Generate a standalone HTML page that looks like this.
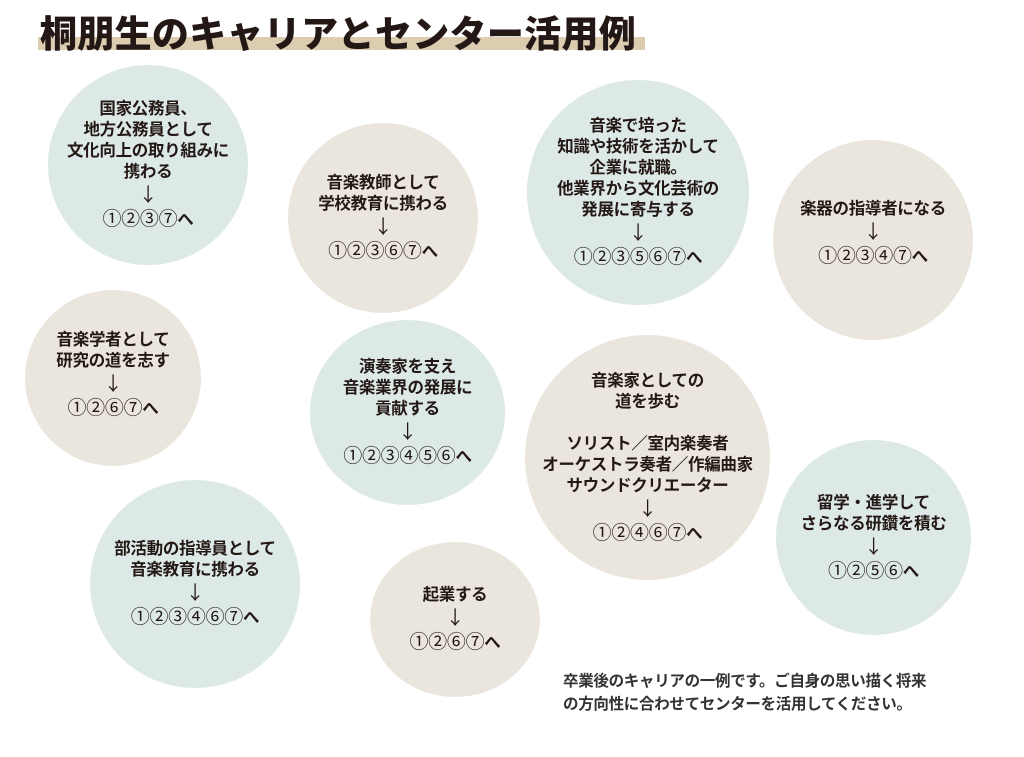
<!DOCTYPE html>
<html><head><meta charset="utf-8">
<style>
body{margin:0;width:1024px;height:757px;background:#fff;position:relative;overflow:hidden;font-family:"Liberation Sans","Noto Sans CJK JP",sans-serif;color:#231815}
.t{position:absolute;left:40px;top:4px;font-size:37px;font-weight:900;letter-spacing:0.3px;white-space:nowrap;z-index:2}
.band{position:absolute;left:38px;top:37px;width:607px;height:13px;background:#dccdb0}
.c{position:absolute;border-radius:50%;display:flex;align-items:center;justify-content:center;text-align:center;font-size:16.5px;font-weight:bold;line-height:21px;letter-spacing:-0.3px}
.c>div{white-space:nowrap}
.c i{font-style:normal;font-family:"Noto Sans CJK JP",sans-serif;font-weight:normal;font-size:19px}
.g{background:#dde9e6}.b{background:#ebe6dd}
.f{position:absolute;left:563px;top:670px;font-size:15.5px;font-weight:bold;line-height:23px;color:#333;letter-spacing:-0.3px;white-space:nowrap}
</style></head><body>
<div class="band"></div>
<div class="t">桐朋生のキャリアとセンター活用例</div>
<div class="c g" style="left:48px;top:65px;width:200px;height:200px"><div>国家公務員、<br>地方公務員として<br>文化向上の取り組みに<br>携わる<br><i>↓</i><br><i>①②③⑦</i>へ</div></div>
<div class="c b" style="left:288px;top:123px;width:190px;height:190px"><div>音楽教師として<br>学校教育に携わる<br><i>↓</i><br><i>①②③⑥⑦</i>へ</div></div>
<div class="c g" style="left:527px;top:80px;width:222px;height:225px"><div>音楽で培った<br>知識や技術を活かして<br>企業に就職。<br>他業界から文化芸術の<br>発展に寄与する<br><i>↓</i><br><i>①②③⑤⑥⑦</i>へ</div></div>
<div class="c b" style="left:773px;top:140px;width:200px;height:200px;padding-bottom:14px;box-sizing:border-box"><div>楽器の指導者になる<br><i>↓</i><br><i>①②③④⑦</i>へ</div></div>
<div class="c b" style="left:25px;top:290px;width:176px;height:176px;padding-bottom:6px;box-sizing:border-box"><div>音楽学者として<br>研究の道を志す<br><i>↓</i><br><i>①②⑥⑦</i>へ</div></div>
<div class="c g" style="left:310px;top:320px;width:195px;height:185px"><div>演奏家を支え<br>音楽業界の発展に<br>貢献する<br><i>↓</i><br><i>①②③④⑤⑥</i>へ</div></div>
<div class="c b" style="left:525px;top:335px;width:245px;height:245px"><div>音楽家としての<br>道を歩む<br><br>ソリスト／室内楽奏者<br>オーケストラ奏者／作編曲家<br>サウンドクリエーター<br><i>↓</i><br><i>①②④⑥⑦</i>へ</div></div>
<div class="c g" style="left:776px;top:440px;width:195px;height:195px"><div>留学・進学して<br>さらなる研鑽を積む<br><i>↓</i><br><i>①②⑤⑥</i>へ</div></div>
<div class="c g" style="left:90px;top:480px;width:210px;height:208px"><div>部活動の指導員として<br>音楽教育に携わる<br><i>↓</i><br><i>①②③④⑥⑦</i>へ</div></div>
<div class="c b" style="left:370px;top:542px;width:170px;height:155px"><div>起業する<br><i>↓</i><br><i>①②⑥⑦</i>へ</div></div>
<div class="f">卒業後のキャリアの一例です。ご自身の思い描く将来<br>の方向性に合わせてセンターを活用してください。</div>
</body></html>
